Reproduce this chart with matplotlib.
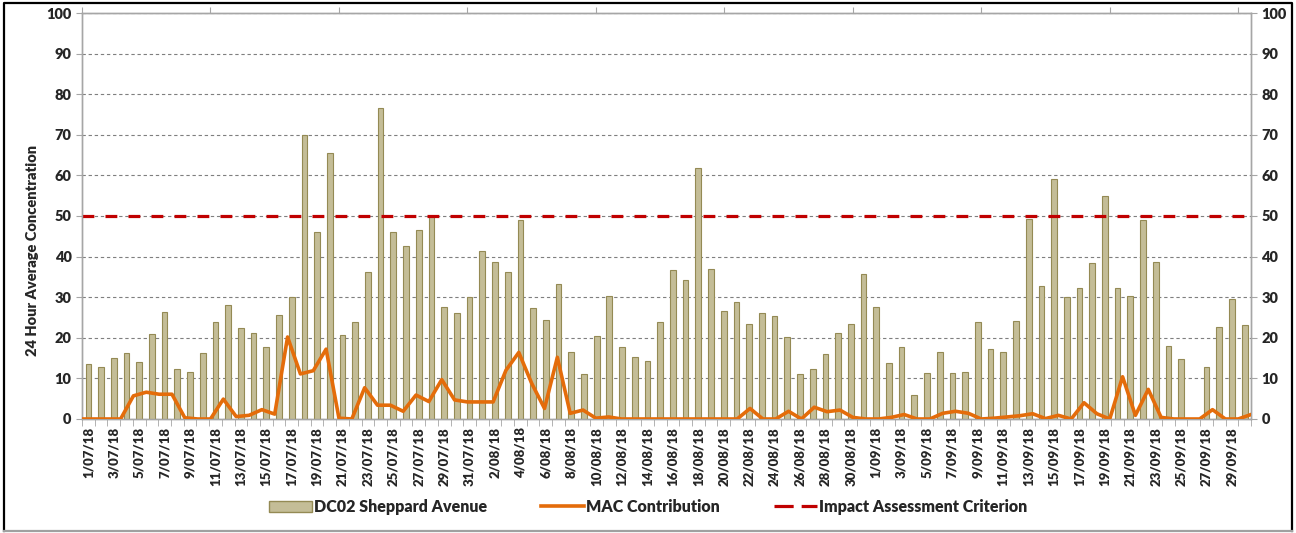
import numpy as np
import pandas as pd
import matplotlib
matplotlib.use("Agg")
import matplotlib.pyplot as plt
from matplotlib.lines import Line2D
from matplotlib.patches import Patch

plt.rcParams['font.family'] = ['Lato', 'DejaVu Sans']

# daily categories 1 Jul - 30 Sep 2018
dates = pd.date_range("2018-07-01", "2018-09-30")
date_labels = [f"{d.day}/{d.strftime('%m/%y')}" for d in dates]

# DC02 Sheppard Avenue 24 hr average (26/09 has no data)
sheppard = [13.5, 12.8, 15.0, 16.3, 14.0, 21.0, 26.3, 12.2, 11.6, 16.3,
            23.8, 28.0, 22.4, 21.3, 17.8, 25.5, 30.0, 70.0, 46.0, 65.4,
            20.8, 24.0, 36.2, 76.7, 46.0, 42.7, 46.5, 50.0, 27.6, 26.2,
            30.0,
            41.5, 38.7, 36.2, 49.0, 27.4, 24.4, 33.2, 16.6, 11.1, 20.4,
            30.3, 17.8, 15.2, 14.2, 24.0, 36.7, 34.3, 61.8, 37.0, 26.5,
            28.7, 23.5, 26.0, 25.4, 20.2, 11.2, 12.3, 16.1, 21.3, 23.5,
            35.6,
            27.6, 13.7, 17.8, 5.9, 11.3, 16.4, 11.4, 11.6, 23.8, 17.3,
            16.6, 24.1, 49.2, 32.8, 59.0, 30.0, 32.3, 38.3, 55.0, 32.3,
            30.4, 48.9, 38.6, 18.0, 14.7, np.nan, 12.8, 22.7, 29.5, 23.2]

# MAC contribution
mac = [0, 0, 0, 0, 5.7, 6.6, 6.1, 6.1, 0.3, 0,
       0, 4.9, 0.6, 0.9, 2.3, 1.2, 20.2, 11.1, 11.9, 17.2,
       0.2, 0, 7.7, 3.4, 3.4, 1.9, 5.9, 4.3, 9.7, 4.7,
       4.2, 4.2, 4.2, 12.0, 16.4, 8.8, 2.6, 15.2, 1.4, 2.2,
       0.2, 0.5, 0, 0, 0, 0, 0, 0, 0, 0,
       0, 0, 2.6, 0, 0, 1.9, 0, 2.9, 1.8, 2.2,
       0.4, 0, 0, 0.4, 1.1, 0, 0, 1.4, 1.9, 1.4,
       0, 0.2, 0.5, 0.8, 1.3, 0.1, 0.9, 0, 4.0, 1.3,
       0, 10.4, 0.9, 7.3, 0.4, 0, 0, 0, 2.3, 0,
       0, 1.1]

criterion = 50

spine_col = '#A6A6A6'
text_col = '#262626'
wt = 'heavy'

fig = plt.figure(figsize=(12.96, 5.33), dpi=100)
ax = fig.add_axes([0.0633, 0.2139, 0.902, 0.7617])

x = np.arange(len(dates))
ax.bar(x, sheppard, width=0.45, color='#C4BD97', edgecolor='#948A54', linewidth=0.8, zorder=3)
ax.axhline(criterion, color='#C00000', lw=2.3, dashes=(3.7, 3.5), zorder=4)

ax.set_xlim(-0.5, len(dates) - 0.5)
ax.set_ylim(0, 100)
ax.set_yticks(range(0, 101, 10))
ax.grid(axis='y', ls=(0, (3, 2.5)), color='#7F7F7F', lw=0.8, zorder=0)

ax.set_xticks(x[::2])
ax.set_xticklabels(date_labels[::2], rotation=90, fontsize=9.5, color=text_col, fontweight=wt)
ax.set_xticks(np.arange(-0.5, len(dates), 1), minor=True)
ax.tick_params(axis='x', which='major', length=0, pad=6)
ax.tick_params(axis='x', which='minor', length=5, color=spine_col)
ax.tick_params(axis='y', labelsize=10.5, labelcolor=text_col, length=4, color=spine_col,
               right=True, labelright=True)
for tk in ax.yaxis.get_major_ticks():
    tk.label1.set_fontweight(wt)
    tk.label2.set_fontweight(wt)
ax.set_ylabel("24 Hour Average Concentration", fontsize=10.5, color=text_col,
              fontweight=wt, labelpad=4)
ax.yaxis.set_label_coords(-0.037, 0.415)

# MAC line sits on a secondary category axis (points on the tick marks)
lax = ax.twiny()
lax.plot(x, mac, color='#E46C0A', lw=2.6, zorder=5)
lax.set_xlim(0, len(dates) - 1)
lax.set_xticks(range(0, len(dates), 10))
lax.set_xticklabels([])
lax.tick_params(axis='x', length=4, color=spine_col)

for a in (ax, lax):
    for s in a.spines.values():
        s.set_color(spine_col)
        s.set_linewidth(1.0)

handles = [Patch(facecolor='#C4BD97', edgecolor='#948A54'),
           Line2D([], [], color='#E46C0A', lw=2.6),
           Line2D([], [], color='#C00000', lw=2.3, dashes=(6.0, 2.5))]
fig.legend(handles, ["DC02 Sheppard Avenue", "MAC Contribution", "Impact Assessment Criterion"],
           loc='center', bbox_to_anchor=(0.5, 0.049), ncol=3, frameon=False,
           prop={'size': 11.5, 'weight': wt}, handlelength=2.7, handletextpad=0.1,
           columnspacing=3.4, labelcolor=text_col)

# outer frame: black on three sides, grey along the bottom
fx0, fx1, fy0, fy1 = 0.003, 0.997, 0.004, 0.994
fig.add_artist(Line2D([fx0, fx0, fx1, fx1], [fy0, fy1, fy1, fy0], transform=fig.transFigure,
                      color='black', lw=1.6))
fig.add_artist(Line2D([fx0, fx1], [fy0, fy0], transform=fig.transFigure, color='#A0A0A0', lw=1.6))

fig.savefig("out.png", dpi=100)
